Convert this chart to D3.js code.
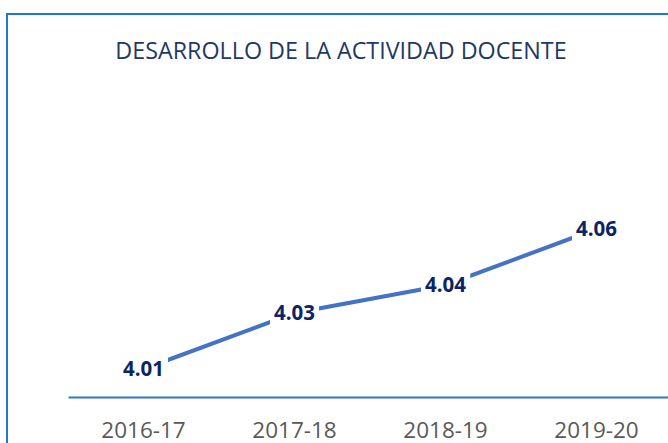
<!DOCTYPE html>
<html>
<head>
<meta charset="utf-8">
<script src="https://cdn.jsdelivr.net/npm/d3@7"></script>
<style>
  body { margin: 0; background: #fff; }
  svg { display: block; font-family: "Open Sans", sans-serif; }
</style>
</head>
<body>
<div id="container"></div>
<script>
// chart data
const title = "DESARROLLO DE LA ACTIVIDAD DOCENTE";
const years = ["2016-17", "2017-18", "2018-19", "2019-20"];
const scores = [4.01, 4.03, 4.04, 4.06];
const yDomain = [4.0, 4.1];

const w = 668;
const h = 443;

const svg = d3.
select("#container").
append("svg").
attr("width", w).
attr("height", h);

// outer chart frame (runs off the right and bottom edges)
svg.
append("rect").
attr("x", 7).
attr("y", 14).
attr("width", w + 20).
attr("height", h + 20).
attr("fill", "#fff").
attr("stroke", "#1f77d0").
attr("stroke-width", 2);

svg.
append("text").
attr("x", 341).
attr("y", 59).
attr("text-anchor", "middle").
attr("font-size", 23.3).
attr("fill", "#1f3864").
text(title);

const xScale = d3.
scaleBand().
domain(years).
range([68, 672]).
padding(0);

const yScale = d3.
scaleLinear().
domain(yDomain).
range([397, 117]);

const xAxis = d3.axisBottom(xScale).tickSize(0).tickPadding(25);

const gx = svg.
append("g").
attr("id", "x-axis").
attr("transform", `translate(0, ${yScale(yDomain[0])})`).
call(xAxis);

gx.select(".domain").
attr("stroke", "#2a7bd0").
attr("stroke-width", 2);

gx.selectAll("text").
attr("font-size", 22.5).
attr("font-family", "Open Sans, sans-serif").
attr("fill", "#595959");

const cx = d => xScale(d) + xScale.bandwidth() / 2;

const line = d3.
line().
x((d, i) => cx(years[i])).
y(d => yScale(d));

svg.
append("path").
datum(scores).
attr("fill", "none").
attr("stroke", "#4472c4").
attr("stroke-width", 4).
attr("d", line);

// data labels sit on the points with a white box behind them
const labels = svg.
selectAll(".label").
data(scores).
enter().
append("g").
attr("class", "label").
attr("transform", (d, i) => `translate(${cx(years[i])}, ${yScale(d)})`);

labels.
append("text").
attr("text-anchor", "middle").
attr("dy", "0.36em").
attr("font-size", 20.5).
attr("font-weight", "bold").
attr("fill", "#0b2466").
text(d => d.toFixed(2));

labels.each(function () {
  const g = d3.select(this);
  const bb = g.select("text").node().getBBox();
  g.insert("rect", "text").
  attr("x", bb.x - 4).
  attr("y", bb.y - 1).
  attr("width", bb.width + 8).
  attr("height", bb.height + 2).
  attr("fill", "#fff");
});
</script>
</body>
</html>
